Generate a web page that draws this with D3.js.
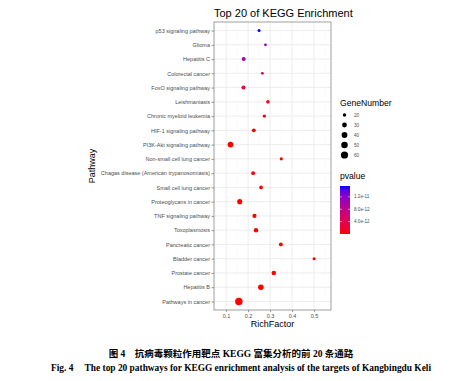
<!DOCTYPE html>
<html>
<head>
<meta charset="utf-8">
<script src="https://cdn.jsdelivr.net/npm/d3@7"></script>
<style>
	body { margin: 0; background: #fff; }
	text { font-family: "Liberation Sans", Arial, sans-serif; }
</style>
</head>
<body>
<div id="wrapper"></div>
<script>
// data
const pathways = [
	'p53 signaling pathway',
	'Glioma',
	'Hepatitis C',
	'Colorectal cancer',
	'FoxO signaling pathway',
	'Leishmaniasis',
	'Chronic myeloid leukemia',
	'HIF-1 signaling pathway',
	'PI3K-Akt signaling pathway',
	'Non-small cell lung cancer',
	'Chagas disease (American trypanosomiasis)',
	'Small cell lung cancer',
	'Proteoglycans in cancer',
	'TNF signaling pathway',
	'Toxoplasmosis',
	'Pancreatic cancer',
	'Bladder cancer',
	'Prostate cancer',
	'Hepatitis B',
	'Pathways in cancer',
]
const richFactor = [0.25, 0.279, 0.18, 0.265, 0.179, 0.29, 0.274, 0.226, 0.12, 0.351,
	0.223, 0.259, 0.162, 0.229, 0.236, 0.349, 0.5, 0.317, 0.258, 0.158]
const geneNumber = [18, 17, 24, 17, 24, 21, 20, 23, 41, 19,
	23, 22, 33, 25, 28, 23, 18, 28, 38, 63]
const pValues = [1.55e-11, 1.12e-11, 1.05e-11, 6.5e-12, 2.6e-12, 6e-13, 4e-13, 1.5e-13, 2e-14, 1e-13,
	8e-14, 5e-14, 9e-15, 2e-15, 8e-16, 3e-16, 1e-16, 5e-17, 2e-19, 4e-25]

const xTicks = [0.1, 0.2, 0.3, 0.4, 0.5]
const xMinorTicks = [0.05, 0.15, 0.25, 0.35, 0.45, 0.55]
const sizeBreaks = [20, 30, 40, 50, 60]
const pBreaks = [1.2e-11, 8e-12, 4e-12]
const pBreakLabels = ['1.2e-11', '8.0e-12', '4.0e-12']

const chartTitle = 'Top 20 of KEGG Enrichment'
const captionCn = '图 4　抗病毒颗粒作用靶点 KEGG 富集分析的前 20 条通路'
const captionEn = 'Fig. 4　 The top 20 pathways for KEGG enrichment analysis of the targets of Kangbingdu Keli'

function drawPlot() {
	const data = pathways.map((p, i) => ({
		pathway: p,
		rich: richFactor[i],
		genes: geneNumber[i],
		p: pValues[i],
	}))

	const xAccessor = d => d.rich
	const yAccessor = d => d.pathway

	let dimensions = {
		width: 466,
		height: 381,
		panel: { left: 214, right: 331, top: 22, bottom: 310 },
	}

	const wrapper = d3.select('#wrapper')
		.append('svg')
			.attr('width', dimensions.width)
			.attr('height', dimensions.height)

	wrapper.append('rect')
		.attr('width', dimensions.width)
		.attr('height', dimensions.height)
		.attr('fill', '#fff')

	// Scales
	const xScale = d3.scaleLinear()
		.domain([0.045, 0.577])
		.range([dimensions.panel.left, dimensions.panel.right])

	const yScale = d3.scalePoint()
		.domain(pathways)
		.range([dimensions.panel.top, dimensions.panel.bottom])
		.padding(0.6)

	const geneMin = 14
	const geneMax = d3.max(geneNumber)
	const sizeScale = d3.scaleSqrt()
		.domain([0, geneMax - geneMin])
		.range([0.62, 3.72])
	const radius = g => sizeScale(Math.max(0, g - geneMin))

	const colorScale = d3.scaleLinear()
		.domain(d3.extent(pValues))
		.range(['red', 'blue'])
		.interpolate(d3.interpolateLab)

	// Panel grid
	const p = dimensions.panel
	const grid = wrapper.append('g')
	grid.selectAll('.minor')
		.data(xMinorTicks)
		.join('line')
			.attr('x1', d => xScale(d))
			.attr('x2', d => xScale(d))
			.attr('y1', p.top)
			.attr('y2', p.bottom)
			.attr('stroke', '#f4f4f4')
			.attr('stroke-width', 0.5)
	grid.selectAll('.majorx')
		.data(xTicks)
		.join('line')
			.attr('x1', d => xScale(d))
			.attr('x2', d => xScale(d))
			.attr('y1', p.top)
			.attr('y2', p.bottom)
			.attr('stroke', '#e8e8e8')
			.attr('stroke-width', 0.8)
	grid.selectAll('.majory')
		.data(pathways)
		.join('line')
			.attr('x1', p.left)
			.attr('x2', p.right)
			.attr('y1', d => yScale(d))
			.attr('y2', d => yScale(d))
			.attr('stroke', '#e8e8e8')
			.attr('stroke-width', 0.8)

	// Points
	wrapper.append('g')
		.selectAll('circle')
		.data(data)
		.join('circle')
			.attr('cx', d => xScale(xAccessor(d)))
			.attr('cy', d => yScale(yAccessor(d)))
			.attr('r', d => radius(d.genes))
			.attr('fill', d => colorScale(d.p))

	wrapper.append('rect')
		.attr('x', p.left)
		.attr('y', p.top)
		.attr('width', p.right - p.left)
		.attr('height', p.bottom - p.top)
		.attr('fill', 'none')
		.attr('stroke', '#888')
		.attr('stroke-width', 0.8)

	// Axes
	const xAxisGenerator = d3.axisBottom(xScale)
		.tickValues(xTicks)
		.tickFormat(d3.format('.1f'))
		.tickSize(2)
		.tickPadding(2)
	const xAxis = wrapper.append('g')
		.attr('transform', `translate(0, ${p.bottom})`)
		.call(xAxisGenerator)
	xAxis.select('.domain').remove()

	const yAxisGenerator = d3.axisLeft(yScale)
		.tickSize(2.5)
		.tickPadding(1.5)
	const yAxis = wrapper.append('g')
		.attr('transform', `translate(${p.left}, 0)`)
		.call(yAxisGenerator)
	yAxis.select('.domain').remove()

	wrapper.selectAll('.tick line').attr('stroke', '#555').attr('stroke-width', 0.6)
	wrapper.selectAll('.tick text')
		.attr('fill', '#4d4d4d')
		.style('font-size', '5.5px')
		.style('font-family', '"Liberation Sans", Arial, sans-serif')

	// Titles
	wrapper.append('text')
		.attr('x', p.left)
		.attr('y', 17)
		.style('font-size', '11px')
		.text(chartTitle)

	wrapper.append('text')
		.attr('x', (p.left + p.right) / 2)
		.attr('y', 327)
		.attr('text-anchor', 'middle')
		.style('font-size', '9px')
		.text('RichFactor')

	wrapper.append('text')
		.attr('transform', `translate(95, ${(p.top + p.bottom) / 2}) rotate(-90)`)
		.attr('text-anchor', 'middle')
		.style('font-size', '9px')
		.text('Pathway')

	// Size legend
	const legendX = 340
	wrapper.append('text')
		.attr('x', legendX)
		.attr('y', 106)
		.style('font-size', '8.6px')
		.text('GeneNumber')

	const sizeLegendY = d3.scalePoint()
		.domain(sizeBreaks)
		.range([115, 155])

	const sizeLegend = wrapper.append('g')
	sizeLegend.selectAll('circle')
		.data(sizeBreaks)
		.join('circle')
			.attr('cx', legendX + 4.5)
			.attr('cy', d => sizeLegendY(d))
			.attr('r', d => radius(d))
			.attr('fill', '#000')
	sizeLegend.selectAll('text')
		.data(sizeBreaks)
		.join('text')
			.attr('x', legendX + 14)
			.attr('y', d => sizeLegendY(d) + 1.6)
			.attr('fill', '#4d4d4d')
			.style('font-size', '4.6px')
			.text(d => d)

	// Colour legend
	wrapper.append('text')
		.attr('x', legendX)
		.attr('y', 179)
		.style('font-size', '8.6px')
		.text('pvalue')

	const barScale = d3.scaleLinear()
		.domain(d3.extent(pValues))
		.range([234, 186])

	const defs = wrapper.append('defs')
	const gradient = defs.append('linearGradient')
		.attr('id', 'pgrad')
		.attr('x1', 0).attr('x2', 0)
		.attr('y1', 1).attr('y2', 0)
	d3.range(0, 1.0001, 0.1).forEach(t => {
		const v = colorScale.domain()[0] + t * (colorScale.domain()[1] - colorScale.domain()[0])
		gradient.append('stop')
			.attr('offset', t)
			.attr('stop-color', colorScale(v))
	})

	wrapper.append('rect')
		.attr('x', legendX)
		.attr('y', barScale.range()[1])
		.attr('width', 10)
		.attr('height', barScale.range()[0] - barScale.range()[1])
		.attr('fill', 'url(#pgrad)')

	const barTicks = wrapper.append('g')
	barTicks.selectAll('.l')
		.data(pBreaks)
		.join('line')
			.attr('x1', legendX)
			.attr('x2', legendX + 2)
			.attr('y1', d => barScale(d))
			.attr('y2', d => barScale(d))
			.attr('stroke', '#fff')
			.attr('stroke-width', 0.5)
	barTicks.selectAll('.r')
		.data(pBreaks)
		.join('line')
			.attr('x1', legendX + 8)
			.attr('x2', legendX + 10)
			.attr('y1', d => barScale(d))
			.attr('y2', d => barScale(d))
			.attr('stroke', '#fff')
			.attr('stroke-width', 0.5)
	barTicks.selectAll('text')
		.data(pBreaks)
		.join('text')
			.attr('x', legendX + 14)
			.attr('y', d => barScale(d) + 1.6)
			.attr('fill', '#4d4d4d')
			.style('font-size', '4.6px')
			.text((d, i) => pBreakLabels[i])

	// Caption
	wrapper.append('text')
		.attr('x', 231)
		.attr('y', 357)
		.attr('text-anchor', 'middle')
		.style('font-family', '"Liberation Serif", "Noto Sans CJK SC", serif')
		.style('font-weight', 'bold')
		.style('font-size', '9.5px')
		.text(captionCn)

	wrapper.append('text')
		.attr('x', 241)
		.attr('y', 371)
		.attr('text-anchor', 'middle')
		.style('font-family', '"Liberation Serif", "Times New Roman", serif')
		.style('font-weight', 'bold')
		.style('font-size', '9.4px')
		.text(captionEn)
}
drawPlot()
</script>
</body>
</html>
